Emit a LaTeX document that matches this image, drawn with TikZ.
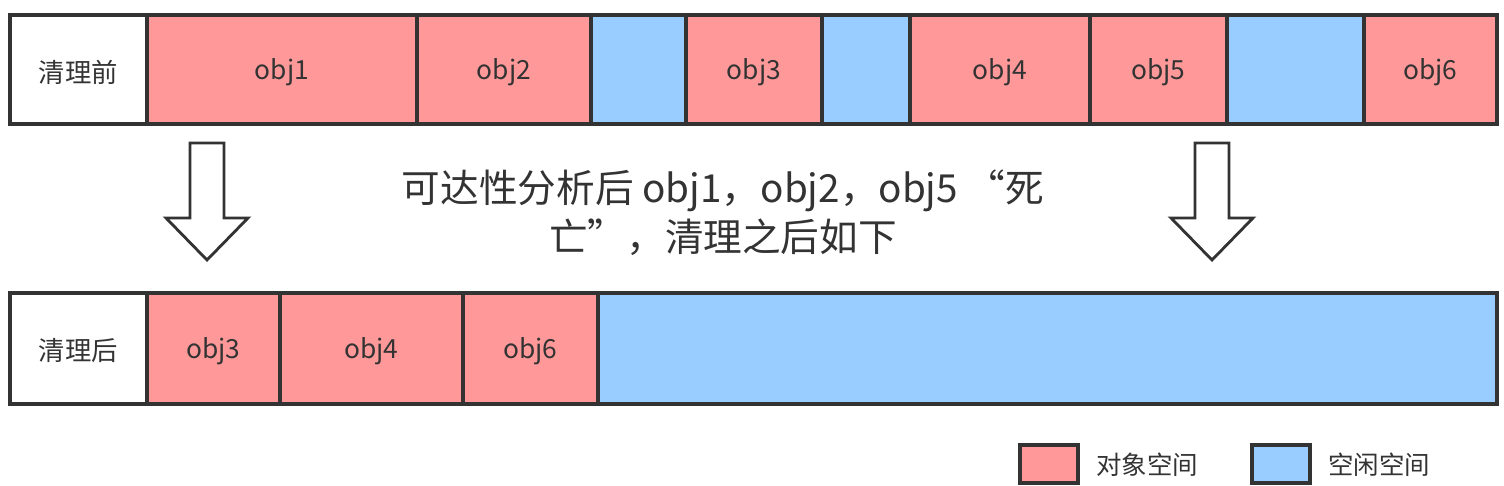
\documentclass[tikz,border=0pt]{standalone}
\usepackage{fontspec}
\setmainfont{Noto Sans CJK SC}
\definecolor{objred}{HTML}{FF9999}
\definecolor{freeblue}{HTML}{99CCFF}
\definecolor{edgegray}{HTML}{333333}
\begin{document}
\begin{tikzpicture}[x=0.02cm,y=-0.02cm,
  cell/.style={draw=edgegray,line width=2pt},
  label/.style={text=edgegray,font=\fontsize{15}{18}\selectfont},
  bigarrow/.style={draw=edgegray,fill=white,line width=1.6pt,line join=miter}]
  \useasboundingbox (0,0) rectangle (1504,486);
  % Before cleaning
  \foreach \a/\b/\c/\t in {10/147/white/清理前, 147/417/objred/obj1, 417/591/objred/obj2,
      591/686/freeblue/, 686/822/objred/obj3, 822/910/freeblue/, 910/1090/objred/obj4,
      1090/1227/objred/obj5, 1227/1364/freeblue/, 1364/1497/objred/obj6} {
    \draw[cell,fill=\c] (\a,15) rectangle (\b,124);
    \node[label] at ({(\a+\b)/2},72) {\t};
  }
  % After cleaning
  \foreach \a/\b/\c/\t in {10/147/white/清理后, 147/280/objred/obj3, 280/463/objred/obj4,
      463/598/objred/obj6, 598/1497/freeblue/} {
    \draw[cell,fill=\c] (\a,293) rectangle (\b,404);
    \node[label] at ({(\a+\b)/2},351) {\t};
  }
  % Down arrows
  \foreach \x in {207,1212} {
    \draw[bigarrow] (\x-17,143) -- (\x+17,143) -- (\x+17,218) -- (\x+41,218)
      -- (\x,260) -- (\x-41,218) -- (\x-17,218) -- cycle;
  }
  \node[text=edgegray,align=center,font=\fontsize{22}{28}\selectfont] (note) at (723,213)
    {可达性分析后 obj1，obj2，obj5 “死\\亡”，清理之后如下};
  % Legend
  \draw[cell,fill=objred] (1020,445) rectangle (1078,483);
  \node[label,anchor=west,font=\fontsize{14.5}{17}\selectfont] (objspace) at (1090,465) {对象空间};
  \draw[cell,fill=freeblue] (1252,445) rectangle (1310,483);
  \node[label,anchor=west,font=\fontsize{14.5}{17}\selectfont] (freespace) at (1322,465) {空闲空间};
\end{tikzpicture}
\end{document}
